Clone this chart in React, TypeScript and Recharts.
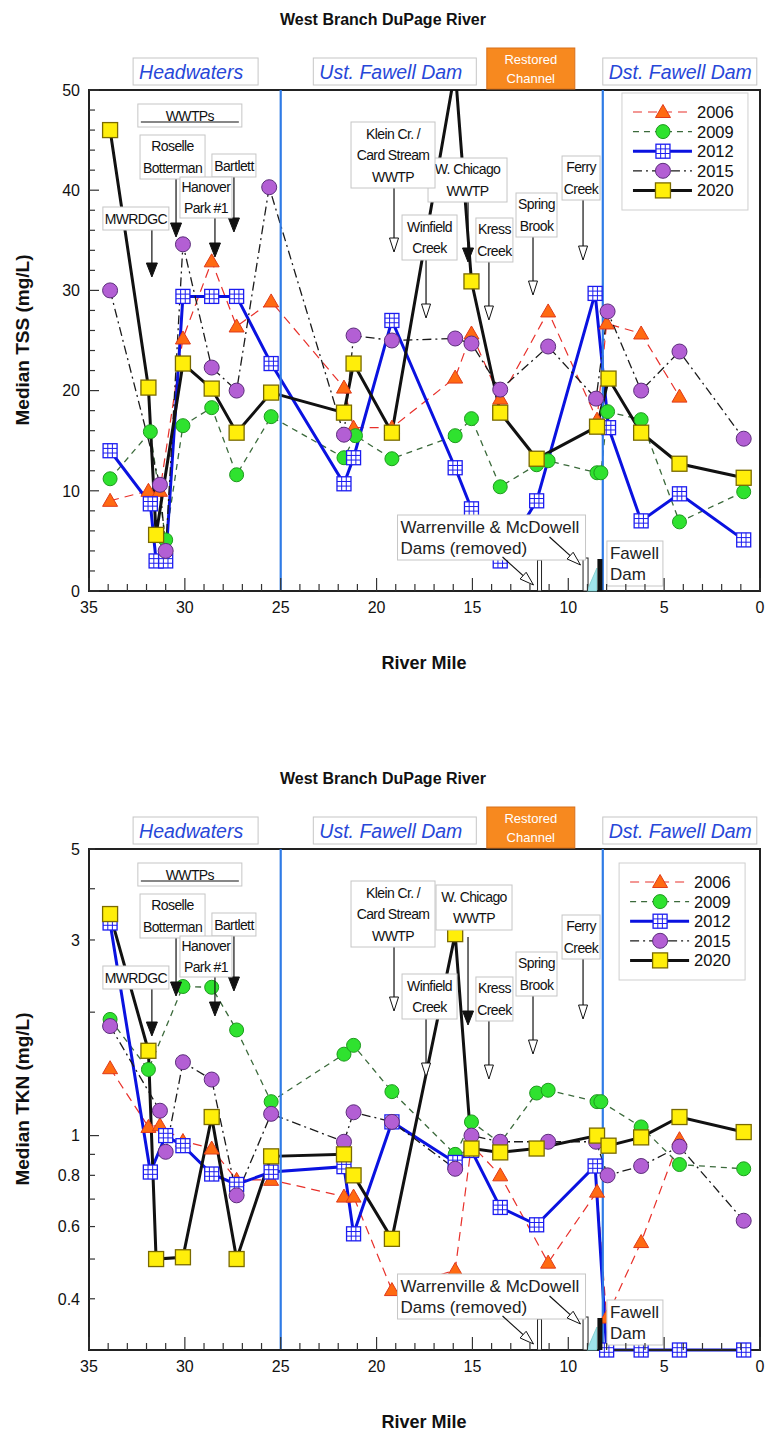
import React from 'react'
import { LineChart, Line, XAxis, YAxis, ReferenceLine, ReferenceDot, ReferenceArea } from 'recharts'

const FONT = '"Liberation Sans", Arial, Helvetica, sans-serif'
const W = 765
const H = 677

// axis ticks
const mileTicks = [0, 1, 2, 3, 4, 5, 6, 7, 8, 9, 10, 11, 12, 13, 14, 15, 16, 17, 18, 19, 20, 21, 22, 23, 24, 25, 26, 27, 28, 29, 30, 31, 32, 33, 34, 35]
const mileLabels = [0, 5, 10, 15, 20, 25, 30, 35]
const tssTicks = [0, 2, 4, 6, 8, 10, 12, 14, 16, 18, 20, 22, 24, 26, 28, 30, 32, 34, 36, 38, 40, 42, 44, 46, 48, 50]
const tssLabels = [0, 10, 20, 30, 40, 50]
const tknTicks = [0.4, 0.5, 0.6, 0.7, 0.8, 0.9, 1, 2, 3, 4, 5]
const tknLabels = [0.4, 0.6, 0.8, 1, 3, 5]

const years = ['2006', '2009', '2012', '2015', '2020']

// ---- Median TSS (mg/L) ----
const tssMiles2006 = [33.9, 31.9, 31.3, 30.1, 28.6, 27.3, 25.5, 21.7, 21.2, 19.2, 15.9, 15.05, 13.55, 11.05, 8.5, 8.0, 6.2, 4.2]
const tss2006 = [9.0, 10.0, 10.0, 25.2, 32.9, 26.4, 28.9, 20.3, 16.3, 16.3, 21.3, 25.7, 19.2, 27.9, 17.1, 26.7, 25.7, 19.4]
const tssMiles2009 = [33.9, 31.8, 31.0, 30.1, 28.6, 27.3, 25.5, 21.7, 21.1, 19.2, 15.9, 15.05, 13.55, 11.65, 11.05, 8.5, 8.3, 7.95, 6.2, 4.2, 0.85]
const tss2009 = [11.2, 15.9, 5.1, 16.5, 18.3, 11.6, 17.4, 13.3, 15.5, 13.2, 15.5, 17.2, 10.4, 12.6, 13.0, 11.8, 11.8, 17.9, 17.1, 6.9, 9.9]
const tssMiles2012 = [33.9, 31.8, 31.5, 31.0, 30.1, 28.6, 27.3, 25.5, 21.7, 21.2, 19.2, 15.9, 15.05, 13.55, 11.65, 8.6, 7.9, 6.2, 4.2, 0.85]
const tss2012 = [14.0, 8.7, 3.0, 3.0, 29.4, 29.4, 29.4, 22.7, 10.7, 13.3, 27.0, 12.3, 8.2, 3.0, 9.0, 29.7, 16.3, 7.0, 9.7, 5.1]
const tssMiles2015 = [33.9, 31.3, 31.0, 30.1, 28.6, 27.3, 25.6, 21.7, 21.2, 19.2, 15.9, 15.05, 13.55, 11.05, 8.55, 7.95, 6.2, 4.2, 0.85]
const tss2015 = [30.0, 10.6, 4.0, 34.6, 22.3, 20.0, 40.3, 15.6, 25.5, 25.0, 25.2, 24.7, 20.1, 24.4, 19.2, 27.9, 20.0, 23.9, 15.2]
const tssMiles2020 = [33.9, 31.9, 31.5, 30.1, 28.6, 27.3, 25.5, 21.7, 21.2, 19.2, 15.9, 15.05, 13.55, 11.65, 8.5, 7.9, 6.2, 4.2, 0.85]
const tss2020 = [46.0, 20.3, 5.6, 22.7, 20.2, 15.8, 19.8, 17.8, 22.7, 15.8, 52.0, 30.9, 17.8, 13.2, 16.4, 21.2, 15.8, 12.7, 11.3]

// ---- Median TKN (mg/L) ----
const tknMiles2006 = [33.9, 31.9, 31.3, 30.1, 28.6, 27.3, 25.5, 21.7, 21.2, 19.2, 15.9, 15.05, 13.55, 11.05, 8.5, 8.0, 6.2, 4.2]
const tkn2006 = [1.46, 1.05, 1.06, 0.97, 0.93, 0.78, 0.78, 0.71, 0.71, 0.42, 0.47, 0.95, 0.8, 0.49, 0.73, 0.36, 0.55, 0.98]
const tknMiles2009 = [33.9, 31.9, 30.1, 28.6, 27.3, 25.5, 21.7, 21.2, 19.2, 15.9, 15.05, 13.55, 11.65, 11.05, 8.5, 8.3, 6.2, 4.2, 0.85]
const tkn2009 = [1.92, 1.45, 2.31, 2.3, 1.81, 1.21, 1.58, 1.66, 1.28, 0.9, 1.08, 0.96, 1.27, 1.29, 1.21, 1.21, 1.05, 0.85, 0.83]
const tknMiles2012 = [33.9, 31.8, 31.0, 30.1, 28.6, 27.3, 25.5, 21.7, 21.2, 19.2, 15.9, 15.05, 13.55, 11.65, 8.6, 8.0, 6.2, 4.2, 0.85]
const tkn2012 = [3.3, 0.815, 1.0, 0.945, 0.806, 0.76, 0.815, 0.84, 0.576, 1.08, 0.86, 0.92, 0.668, 0.606, 0.843, 0.3, 0.3, 0.3, 0.3]
const tknMiles2015 = [33.9, 31.3, 31.0, 30.1, 28.6, 27.3, 25.5, 21.7, 21.2, 19.2, 15.9, 15.05, 13.55, 11.05, 8.55, 7.95, 6.2, 4.2, 0.85]
const tkn2015 = [1.85, 1.15, 0.913, 1.51, 1.37, 0.715, 1.13, 0.966, 1.14, 1.08, 0.83, 1.0, 0.966, 0.966, 0.966, 0.8, 0.843, 0.94, 0.62]
const tknMiles2020 = [33.9, 31.9, 31.5, 30.1, 28.6, 27.3, 25.5, 21.7, 21.2, 19.2, 15.9, 15.05, 13.55, 11.65, 8.5, 7.9, 6.2, 4.2, 0.85]
const tkn2020 = [3.47, 1.61, 0.5, 0.505, 1.11, 0.5, 0.89, 0.9, 0.8, 0.56, 3.1, 0.93, 0.91, 0.93, 1.0, 0.945, 0.99, 1.11, 1.02]

// reach breaks (river mile) and dams
const reachBreaks = [25, 8.2]
const warrenvilleDam = 11.5
const mcdowellDam = 9.1
const fawellDam = 8.35

const rows = (m: number[], v: number[]) => m.map((mile, i) => ({ mile, v: v[i] }))

const tssSeries: Record<string, any[]> = {
  '2006': rows(tssMiles2006, tss2006),
  '2009': rows(tssMiles2009, tss2009),
  '2012': rows(tssMiles2012, tss2012),
  '2015': rows(tssMiles2015, tss2015),
  '2020': rows(tssMiles2020, tss2020),
}
const tknSeries: Record<string, any[]> = {
  '2006': rows(tknMiles2006, tkn2006),
  '2009': rows(tknMiles2009, tkn2009),
  '2012': rows(tknMiles2012, tkn2012),
  '2015': rows(tknMiles2015, tkn2015),
  '2020': rows(tknMiles2020, tkn2020),
}

const styles: Record<string, { stroke: string; width: number; dash?: string; marker: string }> = {
  '2006': { stroke: '#e8302a', width: 1.2, dash: '9 6', marker: 'tri' },
  '2009': { stroke: '#3b6a3b', width: 1.3, dash: '6 5', marker: 'green' },
  '2012': { stroke: '#0a12e0', width: 3, marker: 'grid' },
  '2015': { stroke: '#1a1a1a', width: 1.3, dash: '9 4 2 4', marker: 'purple' },
  '2020': { stroke: '#111', width: 3, marker: 'yellow' },
}

function marker(kind: string, cx: number, cy: number, key?: string) {
  if (cx == null || cy == null || isNaN(cx) || isNaN(cy)) return <g key={key} />
  if (kind === 'tri')
    return <polygon key={key} points={`${cx},${cy - 7.5} ${cx - 7.5},${cy + 5.5} ${cx + 7.5},${cy + 5.5}`} fill="#ff6a12" stroke="#e03a1a" strokeWidth={1} />
  if (kind === 'green') return <circle key={key} cx={cx} cy={cy} r={7} fill="#2fe22f" stroke="#1e9a1e" strokeWidth={1} />
  if (kind === 'purple') return <circle key={key} cx={cx} cy={cy} r={7.5} fill="#b35fd4" stroke="#5b2d7a" strokeWidth={1} />
  if (kind === 'yellow') return <rect key={key} x={cx - 7.5} y={cy - 7.5} width={15} height={15} fill="#ffee0a" stroke="#7a6a00" strokeWidth={1.3} />
  return (
    <g key={key}>
      <rect x={cx - 7} y={cy - 7} width={14} height={14} fill="#fff" stroke="#1c1cf0" strokeWidth={1.3} />
      <path d={`M${cx - 2.3},${cy - 7}V${cy + 7}M${cx + 2.3},${cy - 7}V${cy + 7}M${cx - 7},${cy - 2.3}H${cx + 7}M${cx - 7},${cy + 2.3}H${cx + 7}`} stroke="#1c1cf0" strokeWidth={1} />
    </g>
  )
}

function arrow(x1: number, y1: number, x2: number, y2: number, solid: boolean, key?: string) {
  const dx = x2 - x1
  const dy = y2 - y1
  const len = Math.hypot(dx, dy) || 1
  const ux = dx / len
  const uy = dy / len
  const hl = 14
  const hw = solid ? 5.5 : 4.5
  const bx = x2 - ux * hl
  const by = y2 - uy * hl
  const px = -uy
  const py = ux
  return (
    <g key={key}>
      <line x1={x1} y1={y1} x2={bx} y2={by} stroke="#111" strokeWidth={1.2} />
      <polygon points={`${x2},${y2} ${bx + px * hw},${by + py * hw} ${bx - px * hw},${by - py * hw}`} fill={solid ? '#111' : '#fff'} stroke="#111" strokeWidth={1} />
    </g>
  )
}

type Note = {
  mile: number
  lines: string[]
  box: [number, number, number, number]
  arrow?: [number, number]
  solid?: boolean
  underline?: boolean
}

const wwtpNotes: Note[] = [
  { mile: 30.0, lines: ['WWTPs'], box: [-47, 14, 104, 23], underline: true },
  { mile: 30.46, lines: ['Roselle', 'Botterman'], box: [-36, 45, 65, 44], arrow: [89, 147], solid: true },
  { mile: 27.44, lines: ['Bartlett'], box: [-22, 64, 44, 23], arrow: [87, 142], solid: true },
  { mile: 28.43, lines: ['Hanover', 'Park #1'], box: [-35, 87, 52, 41], arrow: [128, 167], solid: true },
  { mile: 31.72, lines: ['MWRDGC'], box: [-49, 117, 66, 23], arrow: [140, 187], solid: true },
]
const kleinNote: Note = { mile: 19.09, lines: ['Klein Cr. /', 'Card Stream', 'WWTP'], box: [-43, 32, 84, 66], arrow: [98, 162] }
const creekNotes: Note[] = [
  { mile: 17.42, lines: ['Winfield', 'Creek'], box: [-24, 125, 55, 45], arrow: [170, 228] },
  { mile: 14.14, lines: ['Kress', 'Creek'], box: [-13, 128, 37, 44], arrow: [172, 230] },
  { mile: 11.84, lines: ['Spring', 'Brook'], box: [-17, 103, 41, 44], arrow: [147, 205] },
  { mile: 9.23, lines: ['Ferry', 'Creek'], box: [-21, 66, 38, 44], arrow: [110, 170] },
]
const chicagoTop: Note = { mile: 15.23, lines: ['W. Chicago', 'WWTP'], box: [-40, 68, 79, 44], arrow: [112, 172], solid: true }
const chicagoBottom: Note = { mile: 15.23, lines: ['W. Chicago', 'WWTP'], box: [-32, 36, 76, 45], arrow: [88, 176], solid: true }

const noteShape = (n: Note) => (p: any) => {
  const { cx, cy } = p
  if (cx == null || cy == null) return <g />
  const [dx, by, bw, bh] = n.box
  const x0 = cx + dx
  const y0 = cy + by
  const mid = y0 + bh / 2
  return (
    <g>
      {n.arrow && arrow(cx, cy + n.arrow[0], cx, cy + n.arrow[1], !!n.solid)}
      <rect x={x0} y={y0} width={bw} height={bh} fill="#fff" stroke="#c6c6c6" strokeWidth={1} />
      {n.lines.map((t, i) => (
        <text key={i} x={x0 + bw / 2} y={mid + (i - (n.lines.length - 1) / 2) * 21.5} dy="0.36em" textAnchor="middle" fontSize={14} letterSpacing={-0.6} fontFamily={FONT} fill="#111">
          {t}
        </text>
      ))}
      {n.underline && <line x1={x0 + 3} x2={x0 + bw - 3} y1={y0 + 18} y2={y0 + 18} stroke="#111" strokeWidth={1.2} />}
    </g>
  )
}

const headers = [
  { mile: 32.7, w: 125, label: 'Headwaters' },
  { mile: 23.3, w: 163, label: 'Ust. Fawell Dam' },
  { mile: 8.2, w: 154, label: 'Dst. Fawell Dam' },
]
const restored = { mile: 14.25, w: 88, lines: ['Restored', 'Channel'] }

const headerShape = (h: { w: number; label: string }) => (p: any) => {
  const { cx, cy } = p
  return (
    <g>
      <rect x={cx} y={cy - 32} width={h.w} height={27} fill="#fff" stroke="#c6c6c6" />
      <text x={cx + 6} y={cy - 18.5} dy="0.36em" fontSize={19.5} fontStyle="italic" fill="#2747d8" fontFamily={FONT}>
        {h.label}
      </text>
    </g>
  )
}

const restoredShape = (p: any) => {
  const { cx, cy } = p
  return (
    <g>
      <rect x={cx} y={cy - 42} width={restored.w} height={41} fill="#f7891f" stroke="#d8701a" />
      {restored.lines.map((t, i) => (
        <text key={t} x={cx + restored.w / 2} y={cy - 31 + i * 19} dy="0.36em" textAnchor="middle" fontSize={13} fill="#fff" fontFamily={FONT}>
          {t}
        </text>
      ))}
    </g>
  )
}

// dams, anchored at the river bottom line
const warrenShape = (p: any) => {
  const { cx, cy } = p
  const x0 = cx - 142
  const y0 = cy - 76
  return (
    <g>
      <rect x={cx - 2} y={cy - 31} width={4} height={31} fill="#fff" stroke="#222" strokeWidth={1} />
      <rect x={x0} y={y0} width={188} height={45} fill="#fff" stroke="#c6c6c6" />
      <text x={x0 + 3} y={y0 + 12} dy="0.36em" fontSize={17} fill="#222" fontFamily={FONT}>Warrenville &amp; McDowell</text>
      <text x={x0 + 3} y={y0 + 33} dy="0.36em" fontSize={17} fill="#222" fontFamily={FONT}>Dams (removed)</text>
      {arrow(cx - 37, cy - 34, cx - 6, cy - 6, false)}
      {arrow(cx + 10, cy - 54, cx + 41, cy - 26, false)}
    </g>
  )
}
const mcdowellShape = (p: any) => {
  const { cx, cy } = p
  return <rect x={cx - 2.5} y={cy - 33} width={5} height={33} fill="#fff" stroke="#222" strokeWidth={1} />
}
const fawellShape = (p: any) => {
  const { cx, cy } = p
  const x0 = cx + 7
  const y0 = cy - 50
  return (
    <g>
      <polygon points={`${cx - 13},${cy} ${cx - 3},${cy - 23} ${cx - 3},${cy}`} fill="#9fe3ea" stroke="#7cc" strokeWidth={0.8} />
      <rect x={cx - 2.5} y={cy - 32} width={5} height={32} fill="#111" />
      <rect x={x0} y={y0} width={56} height={45} fill="#fff" stroke="#c6c6c6" />
      <text x={x0 + 3} y={y0 + 12} dy="0.36em" fontSize={17} fill="#222" fontFamily={FONT}>Fawell</text>
      <text x={x0 + 3} y={y0 + 33} dy="0.36em" fontSize={17} fill="#222" fontFamily={FONT}>Dam</text>
    </g>
  )
}

const legendShape = (dy: number) => (p: any) => {
  const { cx, cy } = p
  const x0 = cx
  const y0 = cy + dy
  return (
    <g>
      <rect x={x0} y={y0} width={126} height={117} fill="#fff" stroke="#cfcfcf" />
      {years.map((yr, i) => {
        const s = styles[yr]
        const yy = y0 + 19 + i * 19.6
        return (
          <g key={yr}>
            <line x1={x0 + 11} x2={x0 + 70} y1={yy} y2={yy} stroke={s.stroke} strokeWidth={s.width} strokeDasharray={s.dash} />
            {marker(s.marker, x0 + 41, yy)}
            <text x={x0 + 75} y={yy} dy="0.36em" fontSize={16.5} fill="#111" fontFamily={FONT}>{yr}</text>
          </g>
        )
      })}
    </g>
  )
}

const XTick = (p: any) => {
  const { x, y, payload } = p
  const v = payload.value
  const major = mileLabels.includes(v)
  return (
    <g>
      <line x1={x} x2={x} y1={y} y2={y - (major ? 13 : 7)} stroke="#333" strokeWidth={1.2} />
      {major && (
        <text x={x} y={y + 22} textAnchor="middle" fontSize={16} fill="#111" fontFamily={FONT}>{v}</text>
      )}
    </g>
  )
}

const makeYTick = (labels: number[], longAt: number[]) => (p: any) => {
  const { x, y, payload } = p
  const v = payload.value
  const lab = labels.includes(v)
  const long = longAt.includes(v)
  return (
    <g>
      <line x1={x} x2={x + (long ? 10 : 6)} y1={y} y2={y} stroke="#333" strokeWidth={1.2} />
      {lab && (
        <text x={x - 9} y={y} dy="0.36em" textAnchor="end" fontSize={16} fill="#111" fontFamily={FONT}>{v}</text>
      )}
    </g>
  )
}

type PanelProps = {
  top: number
  yLabel: string
  series: Record<string, any[]>
  domain: [number, number]
  ticks: number[]
  labels: number[]
  longAt: number[]
  log?: boolean
  notes: Note[]
  legendDy: number
  legendMile: number
}

function Panel({ top, yLabel, series, domain, ticks, labels, longAt, log, notes, legendDy, legendMile }: PanelProps) {
  const yTop = domain[1]
  const yBot = domain[0]
  return (
    <div style={{ position: 'absolute', left: 0, top, width: W, height: H }}>
      <LineChart width={W} height={H} margin={{ top: 90, right: 5, left: 39, bottom: 56 }}>
        <XAxis
          type="number"
          dataKey="mile"
          domain={[0, 35]}
          reversed
          ticks={mileTicks}
          interval={0}
          tick={XTick}
          tickSize={0}
          tickMargin={0}
          tickLine={false}
          height={30}
          axisLine={{ stroke: '#222', strokeWidth: 2 }}
        />
        <YAxis
          type="number"
          scale={log ? 'log' : 'linear'}
          domain={domain}
          allowDataOverflow={!log}
          ticks={ticks}
          interval={0}
          tick={makeYTick(labels, longAt)}
          tickSize={0}
          tickMargin={0}
          tickLine={false}
          width={50}
          axisLine={{ stroke: '#222', strokeWidth: 2 }}
        />
        <ReferenceArea x1={35} x2={0} y1={yBot} y2={yTop} fill="none" stroke="#222" strokeWidth={2} ifOverflow="visible" />
        {years.map((yr) => {
          const s = styles[yr]
          return (
            <Line
              key={yr}
              data={series[yr]}
              dataKey="v"
              type="linear"
              stroke={s.stroke}
              strokeWidth={s.width}
              strokeDasharray={s.dash}
              dot={(d: any) => marker(s.marker, d.cx, d.cy, `${yr}-${d.index}`)}
              activeDot={false}
              isAnimationActive={false}
            />
          )
        })}
        {reachBreaks.map((m) => (
          <ReferenceLine key={m} x={m} stroke="#2f7be6" strokeWidth={2.2} />
        ))}
        {headers.map((h) => (
          <ReferenceDot key={h.label} x={h.mile} y={yTop} r={0} ifOverflow="visible" shape={headerShape(h)} />
        ))}
        <ReferenceDot x={restored.mile} y={yTop} r={0} ifOverflow="visible" shape={restoredShape} />
        {notes.map((n) => (
          <ReferenceDot key={n.lines.join() + n.box.join()} x={n.mile} y={yTop} r={0} ifOverflow="visible" shape={noteShape(n)} />
        ))}
        <ReferenceDot x={mcdowellDam} y={yBot} r={0} ifOverflow="visible" shape={mcdowellShape} />
        <ReferenceDot x={warrenvilleDam} y={yBot} r={0} ifOverflow="visible" shape={warrenShape} />
        <ReferenceDot x={fawellDam} y={yBot} r={0} ifOverflow="visible" shape={fawellShape} />
        <ReferenceDot x={legendMile} y={yTop} r={0} ifOverflow="visible" shape={legendShape(legendDy)} />
      </LineChart>
      <svg width={W} height={H} style={{ position: 'absolute', left: 0, top: 0, pointerEvents: 'none' }}>
        <text x={383} y={25} textAnchor="middle" fontSize={16} fontWeight="bold" fill="#111" fontFamily={FONT}>West Branch DuPage River</text>
        <text x={22} y={340} textAnchor="middle" dy="0.36em" fontSize={19} fontWeight="bold" fill="#111" fontFamily={FONT} transform="rotate(-90 22 340)">{yLabel}</text>
        <text x={424} y={669} textAnchor="middle" fontSize={18} fontWeight="bold" fill="#111" fontFamily={FONT}>River Mile</text>
      </svg>
    </div>
  )
}

export default function App() {
  return (
    <div style={{ position: 'absolute', left: 0, top: 0, width: W, height: 1436, background: '#fff' }}>
      <Panel
        top={0}
        yLabel="Median TSS (mg/L)"
        series={tssSeries}
        domain={[0, 50]}
        ticks={tssTicks}
        labels={tssLabels}
        longAt={tssLabels}
        notes={[...wwtpNotes, chicagoTop, kleinNote, ...creekNotes]}
        legendDy={3}
        legendMile={7.2}
      />
      <Panel
        top={759}
        yLabel="Median TKN (mg/L)"
        series={tknSeries}
        domain={[0.3, 5]}
        ticks={tknTicks}
        labels={tknLabels}
        longAt={[1]}
        log
        notes={[...wwtpNotes, kleinNote, chicagoBottom, ...creekNotes]}
        legendDy={14}
        legendMile={7.35}
      />
    </div>
  )
}
